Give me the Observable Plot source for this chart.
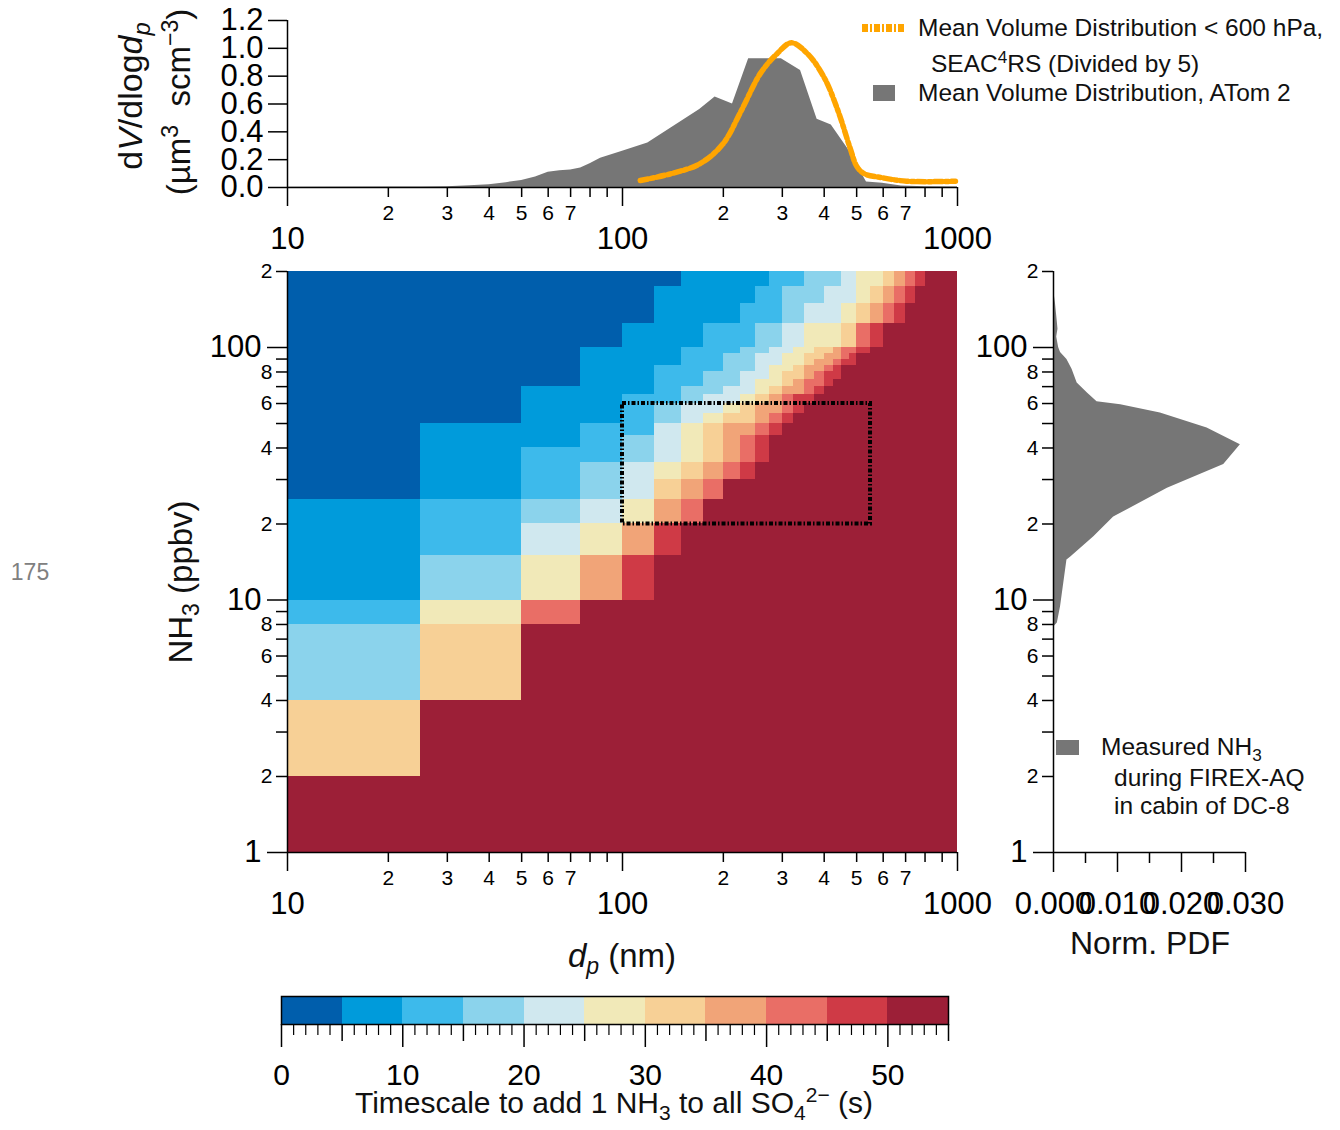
<!DOCTYPE html>
<html><head><meta charset="utf-8">
<script src="https://cdn.jsdelivr.net/npm/d3@7"></script>
<script src="https://cdn.jsdelivr.net/npm/@observablehq/plot@0.6"></script>
<style>
body{margin:0;background:#fff;font-family:"Liberation Sans",Arial,sans-serif;color:#111;}
#wrap{position:relative;width:1340px;height:1130px;overflow:hidden;}
#wrap svg.plt{position:absolute;left:0;top:0;}
.t{position:absolute;white-space:nowrap;line-height:1;}
.c{transform:translate(-50%,-50%);}
.r{transform:translate(-50%,-50%) rotate(-90deg);}
sub,sup{font-size:70%;line-height:0;}
</style></head><body><div id="wrap"></div>
<script>
// ---------------- DATA ----------------
// Top panel: ATom-2 mean volume distribution (d_p nm, dV/dlogdp)
const atomDp  = [10,20,25,30,35,40,45,50,55,60,65,70,75,80,86,100,119,140,170,189,213,238,298,340,381,420,470,535,597,680,800,1000];
const atomVal = [0.002,0.003,0.004,0.006,0.012,0.02,0.035,0.05,0.075,0.11,0.12,0.125,0.14,0.17,0.21,0.26,0.32,0.43,0.56,0.65,0.60,0.925,0.925,0.84,0.49,0.45,0.28,0.04,0.03,0.01,0.005,0.004];
// SEAC4RS mean volume distribution / 5
const seacDp  = [113,140,170,199,226,258,289,319,357,400,440,477,501,526,597,704,986];
const seacVal = [0.05,0.10,0.17,0.31,0.55,0.82,0.96,1.04,0.96,0.79,0.55,0.29,0.15,0.10,0.07,0.045,0.045];
// Right panel: NH3 normalized PDF
const pdfNH3 = [170,150,126,118,110,100,95.6,89.6,82,72.3,66,61,59.4,55,48,41.2,34.4,27.7,21.3,17.8,14.8,14.4,9.4,8.1,7.8];
const pdfVal = [0,0.0003,0.0006,0.0007,0.0005,0.0008,0.0011,0.0021,0.0029,0.0037,0.0053,0.0068,0.0105,0.0167,0.024,0.0292,0.0266,0.0178,0.0094,0.0063,0.0027,0.0021,0.0011,0.0006,0];
// Heatmap rows (NH3 ppbv) and the d_p (nm) at which each timescale class 1..10 begins
const nh3Lo = [1,2,4,8,10,15,20,25,30,35,40,45,50,55,60,65,70,75,80,85,90,95,100,125,150,175];
const nh3Hi = [2,4,8,10,15,20,25,30,35,40,45,50,55,60,65,70,75,80,85,90,95,100,125,150,175,200];
const classStart = [
  [10,10,10,10,10,10,10,10,10,10],
  [10,10,10,10,10,10,25,25,25,25],
  [10,10,10,25,25,25,50,50,50,50],
  [10,10,25,25,25,50,50,50,75,75],
  [10,25,25,50,50,75,75,100,100,125],
  [10,25,50,50,75,100,100,125,125,150],
  [10,25,50,75,100,125,125,150,175,175],
  [25,50,75,100,125,125,150,175,200,200],
  [25,50,75,100,125,150,175,200,225,250],
  [25,50,100,125,150,175,200,225,250,275],
  [25,75,100,125,150,175,200,225,250,275],
  [25,75,125,125,150,175,200,250,275,300],
  [50,100,125,150,175,200,250,275,300,325],
  [50,100,125,150,200,225,250,300,325,350],
  [50,100,150,175,225,250,275,300,325,375],
  [50,125,150,200,250,275,300,350,375,400],
  [75,125,175,225,250,300,325,350,400,425],
  [75,125,175,225,275,300,350,375,400,450],
  [75,125,200,250,275,325,350,400,425,450],
  [75,150,200,250,300,350,375,425,450,500],
  [75,150,200,250,300,350,400,450,475,500],
  [75,150,225,275,325,375,425,450,500,550],
  [100,175,250,300,350,450,500,500,550,600],
  [125,225,300,350,450,500,550,600,650,700],
  [125,250,300,400,500,550,600,650,700,750],
  [150,275,350,450,500,600,650,700,750,800]
];
const tsEdges = [0,5,10,15,20,25,30,35,40,45,50,55];
const tsColors = ["#005EAC","#009BDB","#3DBAEB","#8BD3EC","#D0E8EF","#F1E9B8","#F7D096","#F1A478","#E96E66","#CF3A46","#9C1F37"];
const boxDp = [100,550], boxNH3 = [20,60];
const cbMajor = [0,10,20,30,40,50];
// tick values
const xMajor=[10,100,1000], xMinorLab=[20,30,40,50,60,70,200,300,400,500,600,700], xMinorUnlab=[80,90,800,900];
const yMajor=[1,10,100], yMinorLab=[2,4,6,8,20,40,60,80,200], yMinorUnlab=[3,5,7,9,30,50,70,90];
const topYTicks=[0,0.2,0.4,0.6,0.8,1.0,1.2];
const pdfMajor=[0,0.01,0.02,0.03], pdfMinor=[0.005,0.015,0.025];

// ---------------- BUILD ----------------
const atom = atomDp.map((d,i)=>({d, v:atomVal[i]}));
const seac = seacDp.map((d,i)=>({d, v:seacVal[i]}));
const pdf = pdfNH3.map((n,i)=>({n, p:pdfVal[i]}));
const cells = [];
classStart.forEach((row,r)=>{
  for(let k=0;k<=10;k++){
    const x1 = k===0?10:row[k-1], x2 = k===10?1000:row[k];
    if(x2>x1) cells.push({x1,x2,y1:nh3Lo[r],y2:nh3Hi[r],t:tsEdges[k]+2.5});
  }
});
const bins = tsColors.map((c,i)=>({x1:tsEdges[i],x2:tsEdges[i+1],t:tsEdges[i]+2.5}));
const colorScale = {type:"threshold",domain:tsEdges.slice(1,-1),range:tsColors};
const font = "'Liberation Sans', Arial, sans-serif";
const W=1340,H=1130;
const base = (m)=>Object.assign({width:W,height:H,style:{background:"transparent",fontFamily:font,color:"#000",overflow:"visible"}},m);
const leading = d=>String(Math.round(d/Math.pow(10,Math.floor(Math.log10(d)+1e-9))));
const SW=1.5, MAJ=31, MIN=21;
const noLab = ()=>"";
function ticksX(values,size){return Plot.axisX({ticks:values,tickSize:size,tickFormat:noLab,strokeWidth:SW,label:null});}
function ticksY(values,size){return Plot.axisY({ticks:values,tickSize:size,tickFormat:noLab,strokeWidth:SW,label:null});}
function logX(){return [
  ticksX(xMajor,19), ticksX(xMinorLab.concat(xMinorUnlab),10),
  Plot.text(xMajor,{x:d=>d,frameAnchor:"bottom",lineAnchor:"middle",dy:52,text:d=>String(d),fontSize:MAJ}),
  Plot.text(xMinorLab,{x:d=>d,frameAnchor:"bottom",lineAnchor:"middle",dy:26,text:leading,fontSize:MIN})];}
function logY(){return [
  ticksY(yMajor,20), ticksY(yMinorLab.concat(yMinorUnlab),11),
  Plot.text(yMajor,{y:d=>d,frameAnchor:"left",lineAnchor:"middle",dx:-26,textAnchor:"end",text:d=>String(d),fontSize:MAJ}),
  Plot.text(yMinorLab,{y:d=>d,frameAnchor:"left",lineAnchor:"middle",dx:-15,textAnchor:"end",text:leading,fontSize:MIN})];}

const wrap=document.getElementById("wrap");
function add(svg){svg.classList.add("plt");wrap.appendChild(svg);}

// Main heatmap
add(Plot.plot(base({
  marginLeft:287,marginRight:W-957,marginTop:271,marginBottom:H-852,
  x:{type:"log",domain:[10,1000],label:null},
  y:{type:"log",domain:[1,200],label:null},
  color:colorScale,
  marks:[
    Plot.rect(cells,{x1:"x1",x2:"x2",y1:"y1",y2:"y2",fill:"t",shapeRendering:"crispEdges"}),
    Plot.rect([{a:boxDp[0],b:boxDp[1],c:boxNH3[0],e:boxNH3[1]}],{x1:"a",x2:"b",y1:"c",y2:"e",fill:"none",stroke:"#000",strokeWidth:4,strokeDasharray:"4,2,1.5,2"}),
    Plot.ruleX([10],{strokeWidth:SW}),Plot.ruleY([1],{strokeWidth:SW}),
    ...logX(),...logY()
  ]})));

// Top size distribution
add(Plot.plot(base({
  marginLeft:287,marginRight:W-957,marginTop:20,marginBottom:H-187,
  x:{type:"log",domain:[10,1000],label:null},
  y:{domain:[0,1.2],label:null},
  marks:[
    Plot.areaY(atom,{x:"d",y:"v",fill:"#767676"}),
    Plot.line(seac,{x:"d",y:"v",stroke:"#FFA500",strokeWidth:5.5,strokeDasharray:"8,3,3,3",curve:"catmull-rom"}),
    Plot.ruleX([10],{strokeWidth:SW}),Plot.ruleY([0],{strokeWidth:SW}),
    ticksY(topYTicks,19),
    Plot.text(topYTicks,{y:d=>d,frameAnchor:"left",lineAnchor:"middle",dx:-24,textAnchor:"end",text:d=>d.toFixed(1),fontSize:31}),
    ...logX()
  ]})));

// Right PDF
add(Plot.plot(base({
  marginLeft:1053,marginRight:W-1245,marginTop:271,marginBottom:H-852,
  x:{domain:[0,0.03],label:null},
  y:{type:"log",domain:[1,200],label:null},
  marks:[
    Plot.areaX(pdf,{y:"n",x:"p",fill:"#767676"}),
    Plot.ruleX([0],{strokeWidth:SW}),Plot.ruleY([1],{strokeWidth:SW}),
    ticksX(pdfMajor,20), ticksX(pdfMinor,11),
    Plot.text(pdfMajor,{x:d=>d,frameAnchor:"bottom",lineAnchor:"middle",dy:52,text:d=>d.toFixed(3),fontSize:MAJ}),
    ...logY()
  ]})));

// Colorbar
const cbMinor=d3.range(0,56).filter(v=>v%5!==0), cbMid=[5,15,25,35,45,55];
add(Plot.plot(base({
  marginLeft:281,marginRight:W-948,marginTop:996,marginBottom:H-1024,
  x:{domain:[0,55],label:null},
  color:colorScale,
  marks:[
    Plot.rect(bins,{x1:"x1",x2:"x2",fill:"t",shapeRendering:"crispEdges"}),
    Plot.frame({stroke:"#000",strokeWidth:SW}),
    ticksX(cbMajor,23), ticksX(cbMid,17),
    Plot.axisX({ticks:cbMinor,tickSize:11,tickFormat:noLab,strokeWidth:1.2,label:null}),
    Plot.text(cbMajor,{x:d=>d,frameAnchor:"bottom",lineAnchor:"middle",dy:51,text:d=>String(d),fontSize:30})
  ]})));

// ---------------- TEXT ----------------
function txt(html,x,y,size,cls,extra){
  const d=document.createElement("div");d.className="t "+(cls||"");d.innerHTML=html;
  d.style.left=x+"px";d.style.top=y+"px";d.style.fontSize=size+"px";
  if(extra)Object.assign(d.style,extra);wrap.appendChild(d);return d;}
txt("d<i>V</i>/dlog<i>d</i><sub><i>p</i></sub>",130,96,34,"r");
txt("(µm<sup>3</sup>&nbsp; scm<sup>−3</sup>)",178,102,33,"r");
txt("NH<sub>3</sub> (ppbv)",180,582,33,"r");
txt("<i>d</i><sub><i>p</i></sub> (nm)",622,955,33,"c");
txt("Norm. PDF",1150,943,32,"c");
txt("Timescale to add 1 NH<sub>3</sub> to all SO<sub>4</sub><sup>2−</sup>&nbsp;(s)",614,1103,30,"c");
txt("175",30,572,23,"c",{color:"#808080"});
// top legend
const LF=24.5;
txt("Mean Volume Distribution &lt; 600 hPa,",918,28,LF,"",{transform:"translateY(-50%)"});
txt("SEAC<sup>4</sup>RS (Divided by 5)",931,64,LF,"",{transform:"translateY(-50%)"});
txt("Mean Volume Distribution, ATom 2",918,93,LF,"",{transform:"translateY(-50%)"});
txt('<svg width="44" height="12"><line x1="0" y1="6" x2="44" y2="6" stroke="#FFA500" stroke-width="8" stroke-dasharray="6,2,2,2"/></svg>',862,22,10);
txt('<div style="width:22px;height:16px;background:#767676"></div>',873,85,10);
// right legend
txt('<div style="width:23px;height:15px;background:#767676"></div>',1056,740,10);
txt("Measured NH<sub>3</sub>",1101,747,LF,"",{transform:"translateY(-50%)"});
txt("during FIREX-AQ",1114,778,LF,"",{transform:"translateY(-50%)"});
txt("in cabin of DC-8",1114,806,LF,"",{transform:"translateY(-50%)"});
</script></body></html>
